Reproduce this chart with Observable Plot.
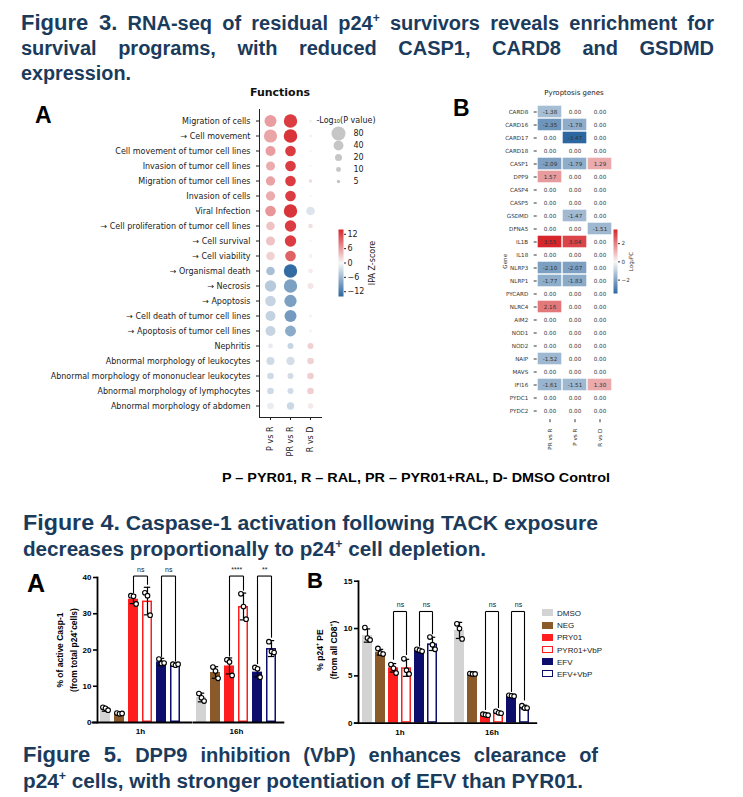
<!DOCTYPE html>
<html><head><meta charset="utf-8">
<script src="https://cdn.jsdelivr.net/npm/d3@7"></script>
<script src="https://cdn.jsdelivr.net/npm/@observablehq/plot@0.6"></script>
<style>
body{margin:0;background:#fff;}
#page{position:relative;width:743px;height:797px;overflow:hidden;background:#fff;}
.abs{position:absolute;}
.ttl{position:absolute;font-family:"Liberation Sans Narrow","Arial Narrow","Liberation Sans",Arial,sans-serif;font-weight:bold;color:#1b3b5c;font-size:20px;line-height:24px;white-space:nowrap;}
.ttl .fig{font-family:"Liberation Sans",Arial,sans-serif;font-size:22px;}
.ttl sup{font-size:0.6em;line-height:0;}
.lbl{position:absolute;white-space:nowrap;transform:translate(-50%,-50%);}
.rot{position:absolute;white-space:nowrap;text-align:center;transform:translate(-50%,-50%) rotate(-90deg);}
.bar4 [aria-label="y-axis tick"], .bar4 [aria-label="y-axis tick"] *{stroke-width:1.6px;}
.bar4 [aria-label="frame"], .bar4 [aria-label="frame"] *{stroke-width:1.8px;}
.leg{position:absolute;font-family:"Liberation Sans",Arial,sans-serif;font-size:8px;color:#222;}
.leg div{position:relative;height:12.2px;line-height:12.2px;white-space:nowrap;}
.leg span.sw{display:inline-block;width:11px;height:7px;box-sizing:border-box;vertical-align:middle;margin-right:4px;position:relative;top:-1px;}
</style></head>
<body><div id="page"></div>
<script>
// ---------- Figure 3A : IPA functions ----------
const functionsA = ["Migration of cells","\u2192 Cell movement","Cell movement of tumor cell lines","Invasion of tumor cell lines","Migration of tumor cell lines","Invasion of cells","Viral Infection","\u2192 Cell proliferation of tumor cell lines","\u2192 Cell survival","\u2192 Cell viability","\u2192 Organismal death","\u2192 Necrosis","\u2192 Apoptosis","\u2192 Cell death of tumor cell lines","\u2192 Apoptosis of tumor cell lines","Nephritis","Abnormal morphology of leukocytes","Abnormal morphology of mononuclear leukocytes","Abnormal morphology of lymphocytes","Abnormal morphology of abdomen"];
const compsA = ["P vs R","PR vs R","R vs D"];
// IPA Z-score
const zPvsR  = [6, 5.5, 6, 5, 5.7, 5, 6.5, 3.5, 3.5, 2.5, -5.4, -4.4, -3.4, -3.6, -3.4, -1, -2.8, -2.8, -2.8, -1];
const zPRvsR = [12.5, 13, 12.5, 12.5, 12.5, 12.5, 13, 12.5, 12.5, 10, -13.5, -8.4, -8.5, -9, -7.4, -3.3, -2.4, -2.6, -2.6, -3];
const zRvsD  = [0.5, 0.5, 0.3, 0.3, 2, 0.3, -1.8, 1.5, 0.3, -0.5, 0.8, 1.2, null, 0.3, 0.3, 2.6, 2.5, 2.7, 2.7, 1];
// -log10(P value)
const pPvsR  = [59, 70, 41, 33, 35, 35, 46, 30, 33, 30, 30, 53, 46, 41, 41, 10, 26, 18, 18, 18];
const pPRvsR = [73, 75, 46, 46, 46, 46, 73, 53, 53, 46, 73, 73, 62, 59, 49, 15, 28, 15, 15, 22];
const pRvsD  = [3.7, 3, 2, 1.5, 5, 1.5, 30, 9, 2, 6.5, 9, 15, null, 4, 4, 15, 18, 18, 18, 12];
const sizeLegend = [80, 40, 20, 10, 5];
const zTicks = [-12, -6, 0, 6, 12];

// ---------- Figure 3B : pyroptosis genes ----------
const genes = ["CARD8","CARD16","CARD17","CARD18","CASP1","DPP9","CASP4","CASP5","GSDMD","DFNA5","IL1B","IL18","NLRP3","NLRP1","PYCARD","NLRC4","AIM2","NOD1","NOD2","NAIP","MAVS","IFI16","PYDC1","PYDC2"];
const compsB = ["PR vs R","P vs R","R vs D"];
const lfcCol1 = [-1.38,-2.35,0,0,-2.09,1.57,0,0,0,0,3.55,0,-2.10,-1.77,0,2.16,0,0,0,-1.52,0,-1.61,0,0];
const lfcCol2 = [0,-1.78,-3.47,0,-1.79,0,0,0,-1.47,0,3.04,0,-2.07,-1.83,0,0,0,0,0,0,0,-1.51,0,0];
const lfcCol3 = [0,0,0,0,1.29,0,0,0,0,-1.51,0,0,0,0,0,0,0,0,0,0,0,1.30,0,0];
const lfcTicks = [-2, 0, 2];

// ---------- Figure 4/5 bar charts ----------
const times = ["1h","16h"];
const series = ["DMSO","NEG","PRY01","PYR01+VbP","EFV","EFV+VbP"];
// A: % of active Casp-1
const caspMean1h  = [3.6, 2.5, 34.0, 33.5, 16.7, 16.0];
const caspMean16h = [6.9, 13.8, 15.6, 32.0, 13.9, 20.4];
const caspSd1h    = [0.5, 0.2, 1.2, 3.8, 1.0, 0.3];
const caspSd16h   = [1.2, 1.6, 2.2, 3.7, 1.3, 2.2];
const caspPts1h   = [[4.2,3.9,3.4],[2.6,2.4,2.5],[35.0,34.8,32.7],[35.8,35.0,29.6],[17.5,16.3,16.4],[16.1,15.8,16.1]];
const caspPts16h  = [[8.0,6.8,5.9],[15.3,14.2,12.2],[17.3,16.7,13.0],[35.5,32.0,28.5],[15.2,14.8,12.5],[22.3,19.6,19.3]];
const caspBrackets = [
  {time:"1h",  a:"PRY01", b:"PYR01+VbP", top:40.4, legA:35.6, legB:38.0, ly:42.1, label:"ns"},
  {time:"1h",  a:"EFV",   b:"EFV+VbP",   top:40.4, legA:18.1, legB:16.8, ly:42.1, label:"ns"},
  {time:"16h", a:"PRY01", b:"PYR01+VbP", top:40.4, legA:18.2, legB:36.4, ly:42.1, label:"****"},
  {time:"16h", a:"EFV",   b:"EFV+VbP",   top:40.4, legA:16.1, legB:23.4, ly:42.1, label:"**"}
];
const caspTicks = [0,10,20,30,40];
// B: % p24+ PE
const p24Mean1h  = [9.26, 7.5, 5.85, 5.85, 7.68, 8.38];
const p24Mean16h = [9.8, 5.2, 0.9, 1.15, 2.9, 1.7];
const p24Sd1h    = [0.7, 0.3, 0.45, 0.9, 0.15, 0.7];
const p24Sd16h   = [0.85, 0.05, 0.08, 0.12, 0.08, 0.2];
const p24Pts1h   = [[10.1,9.0,8.8],[7.9,7.4,7.3],[6.2,5.8,5.3],[6.8,5.6,5.2],[7.8,7.7,7.6],[9.1,8.3,7.8]];
const p24Pts16h  = [[10.5,10.0,8.9],[5.25,5.2,5.2],[0.95,0.9,0.85],[1.25,1.1,1.05],[2.95,2.9,2.85],[1.85,1.6,1.6]];
const p24Brackets = [
  {time:"1h",  a:"PRY01", b:"PYR01+VbP", top:11.8, legA:6.7, legB:7.2, ly:12.5, label:"ns"},
  {time:"1h",  a:"EFV",   b:"EFV+VbP",   top:11.8, legA:8.1, legB:9.4, ly:12.5, label:"ns"},
  {time:"16h", a:"PRY01", b:"PYR01+VbP", top:11.8, legA:1.4, legB:1.6, ly:12.5, label:"ns"},
  {time:"16h", a:"EFV",   b:"EFV+VbP",   top:11.8, legA:3.3, legB:2.4, ly:12.5, label:"ns"}
];
const p24Ticks = [0,5,10,15];

// ---------- styles ----------
const BLUE = "#2c67a0", MID = "#f7f7f7", RED = "#d6262b";
const seriesColor = {"DMSO":"#d3d3d3","NEG":"#8b5a2b","PRY01":"#ff1d1d","PYR01+VbP":"#ff1d1d","EFV":"#0d0d6b","EFV+VbP":"#0d0d6b"};
const openSeries = new Set(["PYR01+VbP","EFV+VbP"]);

const page = document.getElementById("page");
function place(node, left, top){ const d=document.createElement("div"); d.className="abs"; d.style.left=left+"px"; d.style.top=top+"px"; d.append(node); page.append(d); return d; }
function html(s, left, top, cls, css){ const d=document.createElement("div"); if(cls) d.className=cls; d.innerHTML=s; d.style.left=left+"px"; d.style.top=top+"px"; if(css) d.style.cssText+=css; page.append(d); return d; }

// ---------- titles ----------
const tl = [];
function tline(s, left, top, w, j, css){ const d=html(s, left, top, "ttl", css); d.dataset.w=w; if(j) d.dataset.j="1"; tl.push(d); return d; }
tline('<span class="fig">Figure 3.</span> RNA-seq of residual p24<sup>+</sup> survivors reveals enrichment for', 21, 11, 693, true);
tline('survival programs, with reduced CASP1, CARD8 and GSDMD', 21, 36, 693, true);
tline('expression.', 21, 61, 110, false);
tline('<span class="fig">Figure 4.</span> Caspase-1 activation following TACK exposure', 23, 511, 575, false);
tline('decreases proportionally to p24<sup>+</sup> cell depletion.', 23, 537, 463, false);
tline('<span class="fig">Figure 5.</span> DPP9 inhibition (VbP) enhances clearance of', 23, 743, 575, true);
tline('p24<sup>+</sup> cells, with stronger potentiation of EFV than PYR01.', 23, 769, 560, false);
tline('P \u2013 PYR01, R \u2013 RAL, PR \u2013 PYR01+RAL, D- DMSO Control', 222, 470, 388, false, "color:#000;font-size:13px;line-height:16px;");

// panel letters & headings
html('A', 35, 103, "abs", 'font:bold 23px "Liberation Sans",Arial,sans-serif;line-height:24px;color:#000;');
html('B', 453, 96, "abs", 'font:bold 23px "Liberation Sans",Arial,sans-serif;line-height:24px;color:#000;');
html('Functions', 280, 92, "lbl", 'font:bold 11px "DejaVu Sans",sans-serif;color:#111;');
html('-Log\u2081\u2080(P value)', 346, 120, "lbl", 'font:8px "DejaVu Sans",sans-serif;color:#222;');
html('Pyroptosis genes', 574, 93, "lbl", 'font:7px "DejaVu Sans",sans-serif;color:#222;');
html('A', 27, 570, "abs", 'font:bold 25px "Liberation Sans",Arial,sans-serif;line-height:26px;color:#000;');
html('B', 307, 569, "abs", 'font:bold 22px "Liberation Sans",Arial,sans-serif;line-height:23px;color:#000;');
html('% of active Casp-1<br>(from total p24<sup style="font-size:0.6em">+</sup>cells)', 67, 650, "rot", 'font:bold 8.5px "Liberation Sans",Arial,sans-serif;line-height:10.5px;color:#000;');
html('% p24<sup style="font-size:0.6em">+</sup> PE<br>(from all CD8<sup style="font-size:0.6em">+</sup>)', 326, 650, "rot", 'font:bold 8.5px "Liberation Sans",Arial,sans-serif;line-height:11.5px;color:#000;');

// ---------- 3A dot plot ----------
const dotsA = [];
const zCols = [zPvsR, zPRvsR, zRvsD], pCols = [pPvsR, pPRvsR, pRvsD];
functionsA.forEach((f,i)=>compsA.forEach((c,j)=>{ const p=pCols[j][i]; if(p!=null) dotsA.push({fn:f, comp:c, z:zCols[j][i], p}); }));
const zColor = {type:"linear", domain:[-14,0,14], range:[BLUE, MID, RED]};
const rScale = {type:"sqrt", domain:[0,80], range:[0,7]};

place(Plot.plot({
  width:330, height:360, marginTop:9, marginBottom:43, marginLeft:259, marginRight:9,
  style:{fontFamily:"DejaVu Sans, sans-serif", fontSize:"8px", color:"#222", overflow:"visible", background:"transparent"},
  x:{type:"band", domain:compsA, padding:0, label:null, tickRotate:-90, tickSize:3, line:true},
  y:{type:"band", domain:functionsA, padding:0, label:null, tickSize:3, line:true},
  r:rScale, color:zColor,
  marks:[ Plot.dot(dotsA, {x:"comp", y:"fn", r:"p", fill:"z"}) ]
}), 0, 100);

// size legend
place(Plot.plot({
  width:70, height:80, marginTop:14, marginBottom:5, marginLeft:26, marginRight:10,
  style:{fontFamily:"DejaVu Sans, sans-serif", fontSize:"8px", color:"#222", overflow:"visible", background:"transparent"},
  y:{type:"band", domain:sizeLegend, padding:0, axis:null},
  r:rScale,
  marks:[
    Plot.dot(sizeLegend, {y:d=>d, r:d=>d, fill:"#c6c6c6", frameAnchor:"left"}),
    Plot.text(sizeLegend, {y:d=>d, text:d=>String(d), frameAnchor:"left", dx:15, textAnchor:"start", fill:"#222"})
  ]
}), 312, 112);

// Z-score colorbar
place(Plot.plot({
  width:60, height:82, marginLeft:8, marginRight:47, marginTop:7, marginBottom:8,
  style:{fontFamily:"DejaVu Sans, sans-serif", fontSize:"8px", color:"#222", overflow:"visible", background:"transparent"},
  x:{domain:[0,1], axis:null},
  y:{domain:[-14,14], axis:"right", ticks:zTicks, tickFormat:"d", tickSize:2, tickPadding:2, label:"IPA Z-score", labelAnchor:"center", labelOffset:31, labelArrow:"none"},
  color:zColor,
  marks:[ Plot.raster({x1:0, x2:1, y1:-14, y2:14, width:1, height:200, fill:(x,y)=>y}) ]
}), 330, 222);

// ---------- 3B heatmap ----------
const lfcCols = [lfcCol1, lfcCol2, lfcCol3];
const cellsB = genes.flatMap((g,i)=>compsB.map((c,j)=>({gene:g, comp:c, v:lfcCols[j][i]})));
const lfcColor = {type:"linear", domain:[-3.47,0,3.55], range:[BLUE, MID, RED]};
place(Plot.plot({
  width:150, height:360, marginLeft:56.7, marginRight:17.3, marginTop:7.4, marginBottom:35.8,
  style:{fontFamily:"DejaVu Sans, sans-serif", fontSize:"5.6px", color:"#333", overflow:"visible", background:"transparent"},
  x:{type:"band", domain:compsB, padding:0, label:null, tickRotate:-90, tickSize:3},
  y:{type:"band", domain:genes, padding:0, tickSize:3, label:"Gene", labelAnchor:"center", labelOffset:34, labelArrow:"none"},
  color:lfcColor,
  marks:[
    Plot.cell(cellsB.filter(d=>d.v!==0), {x:"comp", y:"gene", fill:"v", inset:0.7}),
    Plot.text(cellsB, {x:"comp", y:"gene", text:d=>d.v.toFixed(2), fill:"#333", fontSize:5.6})
  ]
}), 480, 95);

// log2FC colorbar
place(Plot.plot({
  width:40, height:80, marginLeft:8, marginRight:28, marginTop:7, marginBottom:9,
  style:{fontFamily:"DejaVu Sans, sans-serif", fontSize:"5.6px", color:"#333", overflow:"visible", background:"transparent"},
  x:{domain:[0,1], axis:null},
  y:{domain:[-3.47,3.55], axis:"right", ticks:lfcTicks, tickFormat:"d", tickSize:2, tickPadding:2, label:"Log\u2082FC", labelAnchor:"center", labelOffset:15, labelArrow:"none"},
  color:lfcColor,
  marks:[ Plot.raster({x1:0, x2:1, y1:-3.47, y2:3.55, width:1, height:200, fill:(x,y)=>y}) ]
}), 605, 222);

// ---------- bar charts ----------
function barData(m1, m16, s1, s16){ const M=[m1,m16], S=[s1,s16]; return times.flatMap((t,ti)=>series.map((s,si)=>({time:t, series:s, mean:M[ti][si], sd:S[ti][si]}))); }
function ptData(p1, p16){ const P=[p1,p16]; return times.flatMap((t,ti)=>series.flatMap((s,si)=>P[ti][si].map((v,k)=>({time:t, series:s, v, rep:k})))); }

function barChart(o){
  const isOpen = d=>openSeries.has(d.series);
  const lk = {fx:"time", stroke:"#000", strokeWidth:1.1};
  return Plot.plot({
    width:o.width, height:o.height, marginLeft:o.mL, marginRight:o.mR, marginTop:o.mT, marginBottom:o.mB,
    className:"bar4",
    style:{fontFamily:"Liberation Sans, Arial, sans-serif", fontSize:"8px", fontWeight:"bold", color:"#000", overflow:"visible", background:"transparent"},
    fx:{domain:times, paddingInner:o.fxPi, paddingOuter:o.fxPo, label:null, axis:"bottom", tickSize:0, tickPadding:6},
    x:{domain:series, paddingInner:o.xPi, paddingOuter:o.xPo, axis:null},
    y:{domain:[0,o.yMax], ticks:o.ticks, tickSize:4, tickPadding:2, label:null, line:true},
    color:{type:"identity"},
    marks:[
      Plot.barY(o.bars.filter(d=>!isOpen(d)), {fx:"time", x:"series", y:"mean", fill:d=>seriesColor[d.series]}),
      Plot.barY(o.bars.filter(isOpen), {fx:"time", x:"series", y:"mean", fill:"white", stroke:d=>seriesColor[d.series], strokeWidth:1.5, inset:0.75}),
      Plot.ruleX(o.bars, {fx:"time", x:"series", y1:d=>d.mean-d.sd, y2:d=>d.mean+d.sd, stroke:"#000", strokeWidth:1.2}),
      Plot.tickY(o.bars, {fx:"time", x:"series", y:d=>d.mean+d.sd, stroke:"#000", strokeWidth:1.2, insetLeft:1.8, insetRight:1.8}),
      Plot.tickY(o.bars, {fx:"time", x:"series", y:d=>d.mean-d.sd, stroke:"#000", strokeWidth:1.2, insetLeft:1.8, insetRight:1.8}),
      ...[0,1,2].map(k=>Plot.dot(o.pts.filter(d=>d.rep===k), {fx:"time", x:"series", y:"v", r:2.3, fill:"white", stroke:"#000", strokeWidth:1.1, dx:[-2.6,0,2.6][k]})),
      Plot.link(o.brk, {...lk, x1:"a", x2:"b", y1:"top", y2:"top"}),
      Plot.link(o.brk, {...lk, x1:"a", x2:"a", y1:"legA", y2:"top"}),
      Plot.link(o.brk, {...lk, x1:"b", x2:"b", y1:"legB", y2:"top"}),
      Plot.text(o.brk, {fx:"time", x:"a", y:"ly", text:"label", dx:o.labelDx, fontWeight:"normal", fontSize:7, fill:"#222"}),
      Plot.ruleY([{time:"1h"}], {fx:"time", y:()=>0, stroke:"#000", strokeWidth:1.8, insetLeft:-o.extL, insetRight:-o.extM}),
      Plot.ruleY([{time:"16h"}], {fx:"time", y:()=>0, stroke:"#000", strokeWidth:1.8, insetLeft:0, insetRight:-o.extR})
    ]
  });
}

place(barChart({
  bars: barData(caspMean1h, caspMean16h, caspSd1h, caspSd16h), pts: ptData(caspPts1h, caspPts16h), brk: caspBrackets,
  yMax:40, ticks:caspTicks, width:300, height:185, mL:92, mR:15, mT:17, mB:23,
  fxPi:0.1, fxPo:0.055, xPi:0.26, xPo:0.13, labelDx:7.2, extL:5.3, extM:9.6, extR:5.3
}), 0, 560);

place(barChart({
  bars: barData(p24Mean1h, p24Mean16h, p24Sd1h, p24Sd16h), pts: ptData(p24Pts1h, p24Pts16h), brk: p24Brackets,
  yMax:15, ticks:p24Ticks, width:250, height:180, mL:63, mR:3, mT:15.7, mB:22.3,
  fxPi:0.1, fxPo:0.045, xPi:0.21, xPo:0.12, labelDx:7, extL:4.2, extM:9.3, extR:4.2
}), 290, 565);

// legend for 4B
const leg = document.createElement("div"); leg.className="leg"; leg.style.left="542px"; leg.style.top="608px";
series.forEach(s=>{ const r=document.createElement("div"); const sw=document.createElement("span"); sw.className="sw";
  if(openSeries.has(s)){ sw.style.background="#fff"; sw.style.border="1.5px solid "+seriesColor[s]; } else sw.style.background=seriesColor[s];
  r.append(sw, document.createTextNode(s)); leg.append(r); });
page.append(leg);

// ---------- fit title lines ----------
function fitLine(el){
  const W = +el.dataset.w, j = el.dataset.j === "1";
  const w = el.getBoundingClientRect().width;
  if (j && w < W) { const n=(el.textContent.match(/ /g)||[]).length; if(n) el.style.wordSpacing=((W-w)/n)+"px"; }
  else if (Math.abs(w-W) > 1) { el.style.transform=`scaleX(${W/w})`; el.style.transformOrigin="0 50%"; }
}
(document.fonts ? document.fonts.ready : Promise.resolve()).then(()=>tl.forEach(fitLine));
</script>
</body></html>
